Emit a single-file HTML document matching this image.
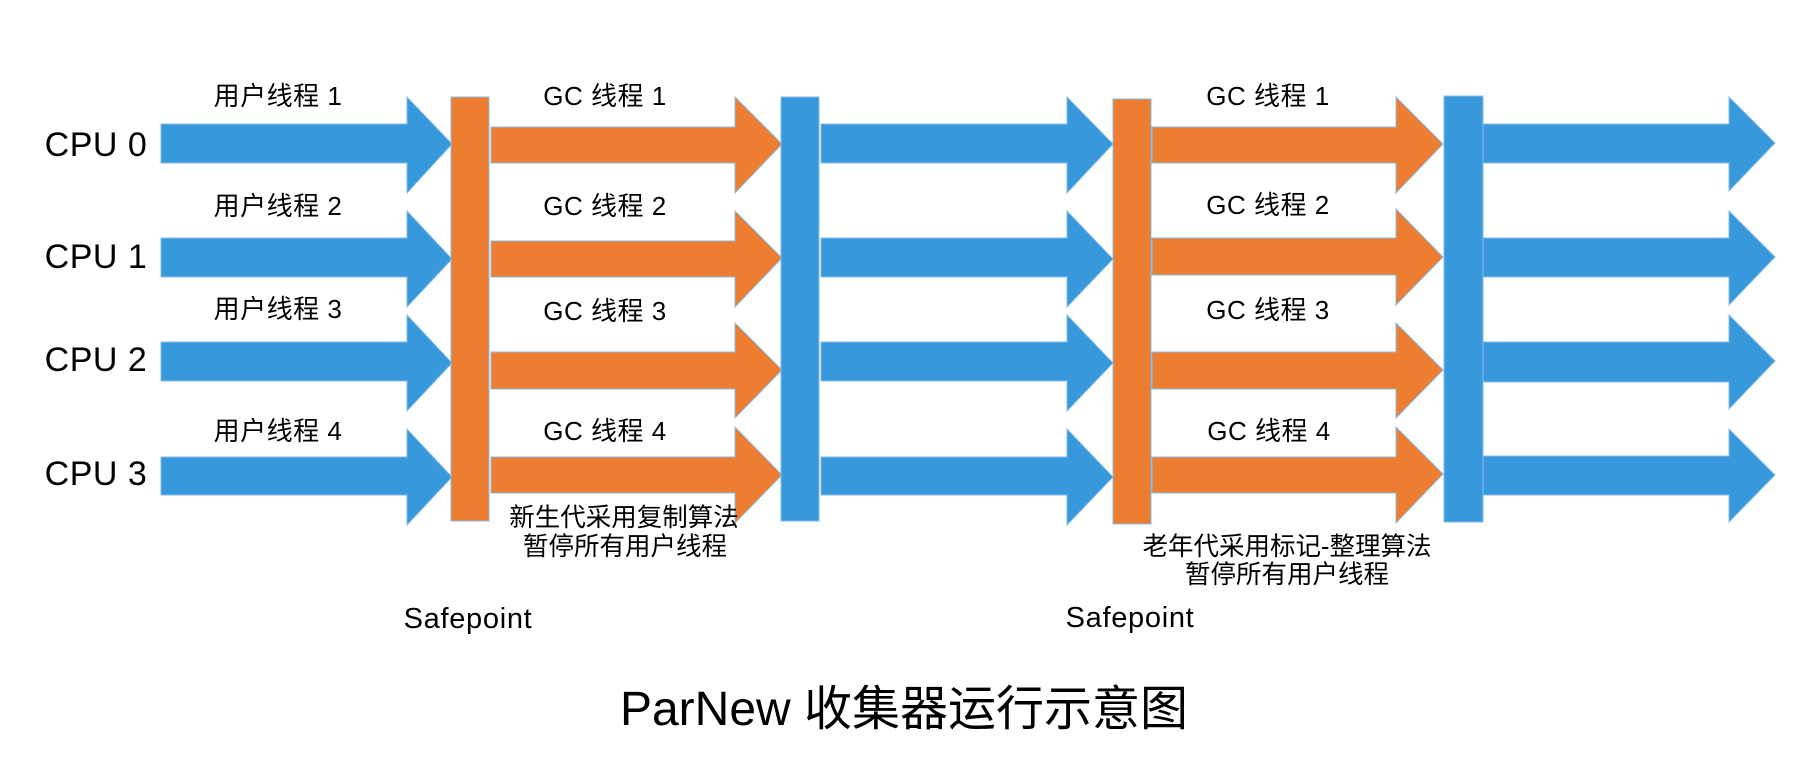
<!DOCTYPE html>
<html>
<head>
<meta charset="utf-8">
<style>
  html, body { margin: 0; padding: 0; background: #ffffff; }
  body { width: 1816px; height: 770px; overflow: hidden; }
  svg { display: block; }
  text { font-family: "Liberation Sans", "Noto Sans CJK SC", sans-serif; fill: #000; }
</style>
</head>
<body>
<svg width="1816" height="770" viewBox="0 0 1816 770" xmlns="http://www.w3.org/2000/svg">
  <rect x="0" y="0" width="1816" height="770" fill="#ffffff"/>

  <!-- Column 1: blue user-thread arrows -->
  <g fill="#3798db" stroke="#86bce6" stroke-width="1">
    <polygon points="161,124 407,124 407,97 452,144 407,193 407,163 161,163"/>
    <polygon points="161,238 407,238 407,211 452,259 407,307 407,277 161,277"/>
    <polygon points="161,342 407,342 407,315 452,363 407,411 407,381 161,381"/>
    <polygon points="161,457 407,457 407,429 452,477 407,525 407,495 161,495"/>
  </g>

  <!-- Orange bar 1 -->
  <rect x="451" y="97" width="38" height="424" fill="#ed7d31" stroke="#86bce6" stroke-width="1"/>

  <!-- Column 2: orange GC arrows -->
  <g fill="#ed7d31" stroke="#86bce6" stroke-width="1">
    <polygon points="491,127 735,127 735,97 782,144 735,193 735,163 491,163"/>
    <polygon points="491,241 735,241 735,211 782,258 735,307 735,277 491,277"/>
    <polygon points="491,352 735,352 735,323 782,370 735,418 735,389 491,389"/>
    <polygon points="491,457 735,457 735,427 782,475 735,523 735,493 491,493"/>
  </g>

  <!-- Blue bar 2 -->
  <rect x="781" y="97" width="38" height="424" fill="#3798db" stroke="#86bce6" stroke-width="1"/>

  <!-- Column 3: blue arrows -->
  <g fill="#3798db" stroke="#86bce6" stroke-width="1">
    <polygon points="821,124 1067,124 1067,97 1113,144 1067,193 1067,163 821,163"/>
    <polygon points="821,238 1067,238 1067,211 1113,259 1067,307 1067,277 821,277"/>
    <polygon points="821,342 1067,342 1067,315 1113,363 1067,411 1067,381 821,381"/>
    <polygon points="821,457 1067,457 1067,429 1113,477 1067,525 1067,495 821,495"/>
  </g>

  <!-- Orange bar 2 -->
  <rect x="1113" y="99" width="38" height="425" fill="#ed7d31" stroke="#86bce6" stroke-width="1"/>

  <!-- Column 4: orange GC arrows -->
  <g fill="#ed7d31" stroke="#86bce6" stroke-width="1">
    <polygon points="1152,127 1396,127 1396,97 1443,144 1396,193 1396,163 1152,163"/>
    <polygon points="1152,238 1396,238 1396,209 1443,257 1396,305 1396,275 1152,275"/>
    <polygon points="1152,352 1396,352 1396,323 1443,370 1396,418 1396,389 1152,389"/>
    <polygon points="1152,457 1396,457 1396,427 1443,474 1396,523 1396,493 1152,493"/>
  </g>

  <!-- Blue bar 3 -->
  <rect x="1444" y="96" width="39" height="426" fill="#3798db" stroke="#86bce6" stroke-width="1"/>

  <!-- Column 5: blue arrows -->
  <g fill="#3798db" stroke="#86bce6" stroke-width="1">
    <polygon points="1483,124 1729,124 1729,97 1775,143 1729,191 1729,163 1483,163"/>
    <polygon points="1483,238 1729,238 1729,211 1775,257 1729,305 1729,277 1483,277"/>
    <polygon points="1483,342 1729,342 1729,315 1775,361 1729,409 1729,382 1483,382"/>
    <polygon points="1483,456 1729,456 1729,429 1775,475 1729,522 1729,495 1483,495"/>
  </g>

  <!-- CPU labels -->
  <g font-size="34" text-anchor="middle" letter-spacing="0.5">
    <text x="96" y="156">CPU 0</text>
    <text x="96" y="268">CPU 1</text>
    <text x="96" y="371">CPU 2</text>
    <text x="96" y="485">CPU 3</text>
  </g>

  <!-- User thread labels -->
  <g font-size="26" text-anchor="middle" letter-spacing="0.5">
    <text x="278" y="105">用户线程 1</text>
    <text x="278" y="215">用户线程 2</text>
    <text x="278" y="318">用户线程 3</text>
    <text x="278" y="440">用户线程 4</text>
  </g>

  <!-- GC thread labels column 2 -->
  <g font-size="26" text-anchor="middle" letter-spacing="0.5">
    <text x="605" y="105">GC 线程 1</text>
    <text x="605" y="215">GC 线程 2</text>
    <text x="605" y="320">GC 线程 3</text>
    <text x="605" y="440">GC 线程 4</text>
  </g>

  <!-- GC thread labels column 4 -->
  <g font-size="26" text-anchor="middle" letter-spacing="0.5">
    <text x="1268" y="105">GC 线程 1</text>
    <text x="1268" y="214">GC 线程 2</text>
    <text x="1268" y="319">GC 线程 3</text>
    <text x="1269" y="440">GC 线程 4</text>
  </g>

  <!-- Descriptions -->
  <g font-size="25.5" text-anchor="middle">
    <text x="624" y="526">新生代采用复制算法</text>
    <text x="625" y="555">暂停所有用户线程</text>
    <text x="1287" y="555">老年代采用标记-整理算法</text>
    <text x="1287" y="583">暂停所有用户线程</text>
  </g>

  <!-- Safepoint labels -->
  <g font-size="29" text-anchor="middle" letter-spacing="0.7">
    <text x="468" y="628">Safepoint</text>
    <text x="1130" y="627">Safepoint</text>
  </g>

  <!-- Title -->
  <text x="904" y="725" font-size="48" text-anchor="middle">ParNew 收集器运行示意图</text>
</svg>
</body>
</html>
